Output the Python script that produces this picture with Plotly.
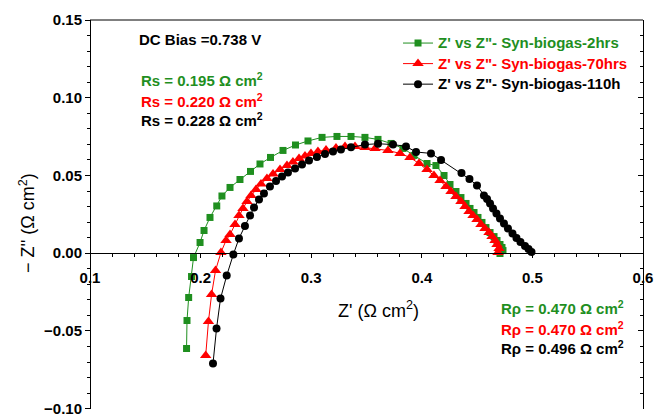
import plotly.graph_objects as go

# Nyquist data: Z' (real) and -Z'' (imaginary), Ohm cm^2
x_2h = [0.1873, 0.1877, 0.1892, 0.1918, 0.1936, 0.1995, 0.2031, 0.2085, 0.2146, 0.2193,
        0.2266, 0.2356, 0.2451, 0.2537, 0.2632, 0.2745, 0.2858, 0.2971, 0.3098, 0.3233,
        0.3360, 0.3486, 0.3604, 0.3722, 0.3830, 0.3929, 0.4047, 0.4128, 0.4201, 0.4255,
        0.4309, 0.4354, 0.4400, 0.4436, 0.4472, 0.4508, 0.4544, 0.4580, 0.4617, 0.4653,
        0.4680, 0.4707, 0.4725, 0.4734, 0.4707]
y_2h = [-0.0613, -0.0433, -0.0285, -0.0150, -0.0028, 0.0069, 0.0146, 0.0230, 0.0304, 0.0368,
        0.0423, 0.0474, 0.0526, 0.0574, 0.0616, 0.0661, 0.0696, 0.0722, 0.0745, 0.0751,
        0.0751, 0.0745, 0.0732, 0.0706, 0.0674, 0.0629, 0.0577, 0.0564, 0.0500, 0.0442,
        0.0397, 0.0358, 0.0320, 0.0288, 0.0262, 0.0230, 0.0198, 0.0165, 0.0133, 0.0107,
        0.0082, 0.0056, 0.0037, 0.0017, -0.0002]

x_70h = [0.2046, 0.2071, 0.2099, 0.2135, 0.2184, 0.2230, 0.2266, 0.2311, 0.2347, 0.2383,
         0.2420, 0.2456, 0.2501, 0.2546, 0.2600, 0.2655, 0.2718, 0.2781, 0.2835, 0.2890,
         0.2944, 0.2998, 0.3061, 0.3134, 0.3224, 0.3306, 0.3396, 0.3486, 0.3577, 0.3694,
         0.3803, 0.3893, 0.3975, 0.4047, 0.4110, 0.4165, 0.4219, 0.4264, 0.4309, 0.4354,
         0.4391, 0.4427, 0.4463, 0.4499, 0.4535, 0.4571, 0.4608, 0.4635, 0.4662, 0.4680,
         0.4698, 0.4689]
y_70h = [-0.0658, -0.0440, -0.0266, -0.0111, 0.0005, 0.0082, 0.0120, 0.0185, 0.0243, 0.0288,
         0.0333, 0.0371, 0.0410, 0.0445, 0.0481, 0.0510, 0.0539, 0.0564, 0.0587, 0.0609,
         0.0625, 0.0642, 0.0654, 0.0664, 0.0677, 0.0687, 0.0687, 0.0680, 0.0674, 0.0661,
         0.0642, 0.0616, 0.0577, 0.0539, 0.0500, 0.0468, 0.0429, 0.0397, 0.0365, 0.0333,
         0.0301, 0.0268, 0.0243, 0.0217, 0.0185, 0.0159, 0.0133, 0.0107, 0.0082, 0.0056,
         0.0030, 0.0005]

x_110h = [0.2112, 0.2144, 0.2180, 0.2236, 0.2296, 0.2347, 0.2401, 0.2447, 0.2483, 0.2528,
          0.2573, 0.2627, 0.2682, 0.2736, 0.2790, 0.2854, 0.2917, 0.2980, 0.3052, 0.3125,
          0.3197, 0.3269, 0.3360, 0.3486, 0.3604, 0.3740, 0.3857, 0.3948, 0.4083, 0.4174,
          0.4359, 0.4431, 0.4499, 0.4562, 0.4590, 0.4617, 0.4644, 0.4675, 0.4707, 0.4743,
          0.4779, 0.4820, 0.4856, 0.4892, 0.4933, 0.4965, 0.4992]
y_110h = [-0.0710, -0.0485, -0.0292, -0.0144, -0.0008, 0.0095, 0.0175, 0.0243, 0.0294, 0.0346,
          0.0384, 0.0429, 0.0465, 0.0494, 0.0519, 0.0545, 0.0571, 0.0597, 0.0619, 0.0638,
          0.0654, 0.0667, 0.0682, 0.0699, 0.0704, 0.0699, 0.0687, 0.0651, 0.0642, 0.0600,
          0.0516, 0.0477, 0.0436, 0.0371, 0.0349, 0.0320, 0.0288, 0.0255, 0.0223, 0.0191,
          0.0159, 0.0127, 0.0098, 0.0072, 0.0046, 0.0027, 0.0008]

series_names = ["Z' vs Z\"- Syn-biogas-2hrs", "Z' vs Z\"- Syn-biogas-70hrs", "Z' vs Z\"- Syn-biogas-110h"]
rs_values = [0.195, 0.220, 0.228]
rp_values = [0.470, 0.470, 0.496]

# axis ticks
x_ticks = [0.1, 0.2, 0.3, 0.4, 0.5, 0.6]
y_ticks = [-0.10, -0.05, 0.00, 0.05, 0.10, 0.15]

GREEN = "#1f8f1f"
RED = "#ff0000"
BLACK = "#000000"
colors = [GREEN, RED, BLACK]
symbols = ["square", "triangle-up", "circle"]
sizes = [7, 10, 8]
FONT = "Arial, Liberation Sans, sans-serif"

fig = go.Figure()
for xs, ys, name, c, sym, sz in zip([x_2h, x_70h, x_110h], [y_2h, y_70h, y_110h],
                                    series_names, colors, symbols, sizes):
    fig.add_trace(go.Scatter(
        x=xs, y=ys, mode="lines+markers",
        name=f"<b><span style='color:{c};font-size:15px'>{name}</span></b>",
        line=dict(color=c, width=1),
        marker=dict(symbol=sym, size=sz, color=c, line=dict(width=0)),
    ))

# empty trace so the right-hand mirror axis is rendered
fig.add_trace(go.Scatter(x=[None], y=[None], yaxis="y2", showlegend=False, hoverinfo="skip"))

tickfont = dict(family=FONT, size=15, color="black", weight="bold")
y_range = [-0.1002, 0.15]

fig.update_layout(
    width=655, height=416,
    margin=dict(l=90, r=12, t=20, b=7, autoexpand=False),
    plot_bgcolor="white", paper_bgcolor="white",
    font=dict(family=FONT, color="black"),
    xaxis=dict(
        range=[0.1, 0.6], anchor="free", position=0.4, automargin=False,
        showline=True, linecolor="black", linewidth=1,
        ticks="outside", ticklen=4, tickcolor="black",
        tickmode="array", tickvals=x_ticks, ticktext=[f"{v:.1f}" for v in x_ticks],
        tickfont=tickfont, ticklabelstandoff=7, ticklabeloverflow="allow",
        minor=dict(dtick=0.02, tick0=0.1, ticks="outside", ticklen=3, tickcolor="black"),
        showgrid=False, zeroline=False,
    ),
    yaxis=dict(
        range=y_range, anchor="free", position=0, automargin=False,
        showline=True, linecolor="black", linewidth=1,
        ticks="outside", ticklen=5, tickcolor="black",
        tickmode="array", tickvals=y_ticks,
        ticktext=[f"{v:.2f}".replace("-", "\u2212") for v in y_ticks],
        tickfont=tickfont, ticklabeloverflow="allow",
        minor=dict(dtick=0.01, tick0=0, ticks="outside", ticklen=3, tickcolor="black"),
        showgrid=False, zeroline=False,
    ),
    yaxis2=dict(
        range=y_range, overlaying="y", side="right", anchor="free", position=1,
        automargin=False,
        showline=True, linecolor="black", linewidth=1,
        ticks="inside", ticklen=5, tickcolor="black",
        tickmode="array", tickvals=y_ticks,
        showticklabels=False,
        minor=dict(dtick=0.01, tick0=0, ticks="inside", ticklen=3, tickcolor="black"),
        showgrid=False, zeroline=False,
    ),
    legend=dict(
        x=0.557, y=0.98, xanchor="left", yanchor="top",
        bgcolor="rgba(0,0,0,0)", font=dict(family=FONT, size=13.5),
        itemwidth=30, tracegroupgap=0,
    ),
    showlegend=True,
)

# top frame line
fig.add_shape(type="line", xref="paper", yref="paper", x0=0, x1=1, y0=1, y1=1,
              line=dict(color="black", width=1))

# axis titles
fig.add_annotation(text="Z' (Ω cm<sup>2</sup>)", xref="paper", yref="paper",
                   x=0.521, y=0.2545, xanchor="center", yanchor="middle", showarrow=False,
                   font=dict(family=FONT, size=18, color="black"))
fig.add_annotation(text="− Z'' (Ω cm<sup>2</sup>)", xref="paper", yref="paper",
                   x=-0.114, y=0.478, xanchor="center", yanchor="middle",
                   showarrow=False, textangle=-90,
                   font=dict(family=FONT, size=18, color="black"))

fig.add_annotation(text="<b>DC Bias =0.738 V</b>", xref="paper", yref="paper",
                   x=0.085, y=0.951, xanchor="left", yanchor="middle", showarrow=False,
                   font=dict(family=FONT, size=15, color="black"))

rs_y = [0.846, 0.794, 0.743]
rp_y = [0.260, 0.208, 0.157]
for v, c, yy in zip(rs_values, colors, rs_y):
    fig.add_annotation(text=f"<b>Rs = {v:.3f} Ω cm<sup>2</sup></b>", xref="paper", yref="paper",
                       x=0.0886, y=yy, xanchor="left", yanchor="middle", showarrow=False,
                       font=dict(family=FONT, size=15, color=c))
for v, c, yy in zip(rp_values, colors, rp_y):
    fig.add_annotation(text=f"<b>Rρ = {v:.3f} Ω cm<sup>2</sup></b>", xref="paper", yref="paper",
                       x=0.740, y=yy, xanchor="left", yanchor="middle", showarrow=False,
                       font=dict(family=FONT, size=15, color=c))

fig.write_html("out.html")
